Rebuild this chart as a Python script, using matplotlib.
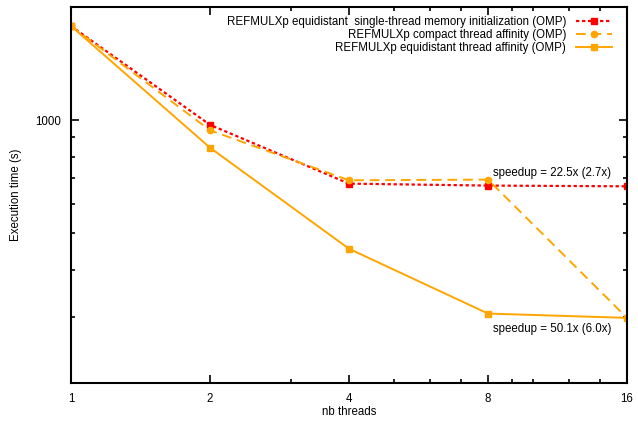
import matplotlib
matplotlib.use("Agg")
import matplotlib.pyplot as plt
from matplotlib.ticker import FixedLocator, NullFormatter

plt.rcParams['font.family'] = ['Liberation Sans', 'DejaVu Sans']

threads = [1, 2, 4, 8, 16]
equi_single_init = [1780, 972, 678, 670, 667]
compact_affinity = [1780, 940, 692, 695, 298]
equi_affinity = [1780, 845, 455, 306, 298]

labels = [
    "REFMULXp equidistant  single-thread memory initialization (OMP)",
    "REFMULXp compact thread affinity (OMP)",
    "REFMULXp equidistant thread affinity (OMP)",
]
annot1 = "speedup = 22.5x (2.7x)"
annot2 = "speedup = 50.1x (6.0x)"

RED = "#ff0000"
ORANGE = "#ffa500"
FS = 8.3

fig = plt.figure(figsize=(6.38, 4.21), dpi=100)
ax = fig.add_axes([71/638, 38/421, 556/638, 376/421])

ax.plot(threads, equi_single_init, color=RED, lw=1.6, ls=(0, (1.5, 1.2)),
        marker='s', ms=5, label=labels[0])
ax.plot(threads, compact_affinity, color=ORANGE, lw=1.4, ls=(0, (5, 3)),
        marker='o', ms=4.5, label=labels[1])
ax.plot(threads, equi_affinity, color=ORANGE, lw=1.4, ls='-',
        marker='s', ms=5, label=labels[2])

ax.set_xscale('log', base=2)
ax.set_yscale('log')
ax.set_xlim(1, 16)
ax.set_ylim(200, 2000)

ax.xaxis.set_major_locator(FixedLocator(threads))
ax.set_xticklabels([str(t) for t in threads])
ax.xaxis.set_minor_locator(FixedLocator([3, 5, 6, 7, 9, 10, 12, 14]))
ax.xaxis.set_minor_formatter(NullFormatter())

ax.yaxis.set_major_locator(FixedLocator([1000]))
ax.set_yticklabels(["1000"])
ax.yaxis.set_minor_locator(FixedLocator([300, 400, 500, 600, 700, 800, 900]))
ax.yaxis.set_minor_formatter(NullFormatter())

ax.tick_params(which='both', direction='in', top=True, right=True,
               labelsize=FS, width=1.2)
ax.tick_params(which='major', length=6, pad=7)
ax.tick_params(which='minor', length=3)
for s in ax.spines.values():
    s.set_linewidth(1.5)

ax.set_xlabel("nb threads", fontsize=FS, labelpad=1)
ax.set_ylabel("Execution time (s)", fontsize=FS, labelpad=10)

ax.text(8.2, 725, annot1, fontsize=FS, ha='left', va='center')
ax.text(8.2, 278, annot2, fontsize=FS, ha='left', va='center')

leg = ax.legend(loc='upper right', bbox_to_anchor=(612/638, 1 - 16/421),
                bbox_transform=fig.transFigure, frameon=False, markerfirst=False,
                fontsize=FS, handlelength=3.1, handletextpad=0.9,
                labelspacing=0.1, borderpad=0, borderaxespad=0)

fig.savefig("out.png", dpi=100)
